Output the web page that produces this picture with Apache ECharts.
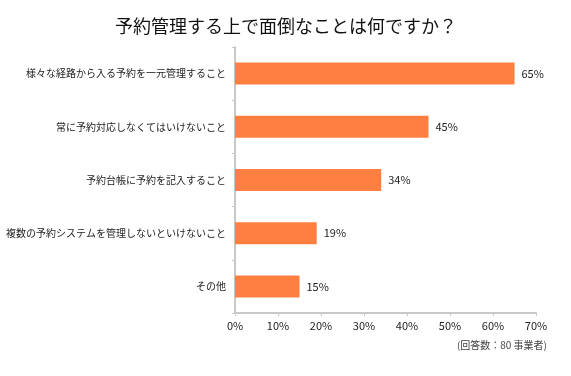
<!DOCTYPE html>
<html><head><meta charset="utf-8">
<script src="https://cdn.jsdelivr.net/npm/echarts@6/dist/echarts.min.js"></script>
<style>html,body{margin:0;padding:0;background:#fff}#c{width:571px;height:376px}</style>
</head><body><div id="c"></div>
<script>
const titleText = '予約管理する上で面倒なことは何ですか？';
const categories = ['様々な経路から入る予約を一元管理すること','常に予約対応しなくてはいけないこと','予約台帳に予約を記入すること','複数の予約システムを管理しないといけないこと','その他'];
const values = [65, 45, 34, 19, 15];
const xTicks = [0, 10, 20, 30, 40, 50, 60, 70];
const note = '(回答数：80 事業者)';
const FONT = '"Noto Sans CJK JP", sans-serif';
const chart = echarts.init(document.getElementById('c'), null, {renderer:'canvas'});
chart.setOption({
  animation:false,
  backgroundColor:'#fff',
  title:{text:titleText,left:110,top:12,textStyle:{fontFamily:FONT,fontSize:18,fontWeight:'normal',color:'#111'}},
  graphic:[{type:'text',right:24,top:340,style:{text:note,font:'10px '+FONT,fill:'#444'}}],
  grid:{left:235,right:35,top:47,bottom:63,containLabel:false},
  xAxis:{type:'value',min:xTicks[0],max:xTicks[xTicks.length-1],interval:10,
    axisLine:{show:true,lineStyle:{color:'#c8c8c8',width:2}},
    axisTick:{show:true,length:3,lineStyle:{color:'#c8c8c8'}},
    splitLine:{show:false},
    axisLabel:{formatter:v=>v+'%',fontFamily:FONT,fontSize:11,color:'#222',margin:7}},
  yAxis:{type:'category',data:categories,inverse:true,
    axisLine:{show:true,lineStyle:{color:'#c8c8c8',width:2}},
    axisTick:{show:true,length:3,lineStyle:{color:'#c8c8c8'}},
    axisLabel:{fontFamily:FONT,fontSize:10,color:'#222',margin:9}},
  series:[{type:'bar',data:values,barWidth:22,itemStyle:{color:'#FF7F40'},
    label:{show:true,position:'right',distance:7,formatter:p=>p.value+'%',fontFamily:FONT,fontSize:11,color:'#222'}}]
});
</script></body></html>
